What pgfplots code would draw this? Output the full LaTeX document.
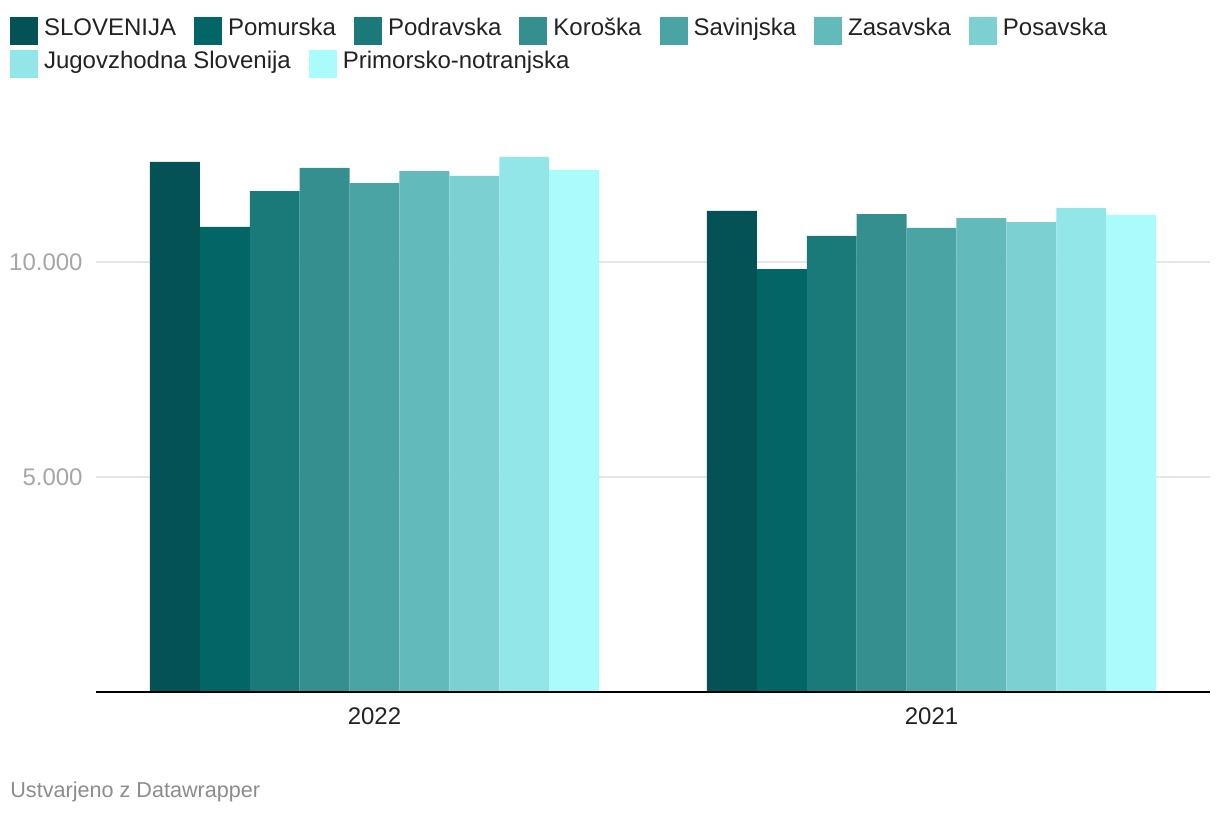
\documentclass[border=0pt]{standalone}
\usepackage{fontspec}
\setmainfont{Liberation Sans}
\usepackage{pgfplots}
\pgfplotsset{compat=1.18}

\definecolor{c1}{HTML}{045255}
\definecolor{c2}{HTML}{026666}
\definecolor{c3}{HTML}{1A7A7A}
\definecolor{c4}{HTML}{368F8F}
\definecolor{c5}{HTML}{4BA4A4}
\definecolor{c6}{HTML}{63BABA}
\definecolor{c7}{HTML}{7CD0D1}
\definecolor{c8}{HTML}{92E6E8}
\definecolor{c9}{HTML}{AAFCFC}
\definecolor{gridgray}{HTML}{E6E6E6}
\definecolor{ticklgray}{HTML}{A6A6A6}
\definecolor{labeldark}{HTML}{222222}
\definecolor{footgray}{HTML}{8C8C8C}

\pgfplotsset{
  sqlegend/.style={
    legend image code/.code={\fill[##1] (0pt,-7pt) rectangle (14pt,7pt);},
    legend columns=-1,
    legend cell align=left,
    legend style={draw=none, fill=none, inner sep=0pt, outer sep=0pt,
      anchor=north west,
      nodes={inner sep=0pt, text height=0.72em, text depth=0.26em},
      font=\fontsize{12}{14.4}\selectfont, text=labeldark,
      /tikz/every odd column/.append style={column sep=3pt},
      /tikz/every even column/.append style={column sep=9pt}},
  },
}

\begin{document}
\begin{tikzpicture}
\useasboundingbox (0,0) rectangle (610pt,407pt);
\begin{axis}[
  at={(48pt,61pt)}, anchor=south west,
  scale only axis, width=557pt, height=279.5pt,
  ybar=0pt, bar width=24.95pt,
  xmin=-0.5, xmax=1.5, ymin=0, ymax=13000,
  xtick={0,1}, xticklabels={2022,2021},
  ytick={5000,10000}, yticklabels={5.000,10.000},
  scaled y ticks=false,
  axis line style={draw=none},
  major tick length=0pt,
  ymajorgrids, grid style={color=gridgray, line width=1pt},
  xticklabel style={anchor=north, inner sep=0pt, yshift=-7.5pt,
    font=\fontsize{12}{14}\selectfont, text=labeldark},
  yticklabel style={anchor=east, inner sep=0pt, xshift=-6.5pt,
    font=\fontsize{12}{14}\selectfont, text=ticklgray},
  sqlegend,
  legend style={at={(-0.0772,1.2080)}},
  clip=false,
]
\addplot[fill=c1, draw=none] coordinates {(0,12326) (1,11186)};
\addlegendentry{SLOVENIJA}
\addplot[fill=c2, draw=none] coordinates {(0,10814) (1,9837)};
\addlegendentry{Pomurska}
\addplot[fill=c3, draw=none] coordinates {(0,11651) (1,10605)};
\addlegendentry{Podravska}
\addplot[fill=c4, draw=none] coordinates {(0,12186) (1,11116)};
\addlegendentry{Koroška}
\addplot[fill=c5, draw=none] coordinates {(0,11837) (1,10791)};
\addlegendentry{Savinjska}
\addplot[fill=c6, draw=none] coordinates {(0,12116) (1,11023)};
\addlegendentry{Zasavska}
\addplot[fill=c7, draw=none] coordinates {(0,12000) (1,10930)};
\addlegendentry{Posavska}
\addplot[fill=c8, draw=none] coordinates {(0,12442) (1,11256)};
\addplot[fill=c9, draw=none] coordinates {(0,12140) (1,11093)};
\draw[black, line width=1pt] (rel axis cs:0,0) -- (rel axis cs:1,0);
\end{axis}
% second legend row
\begin{axis}[
  at={(48pt,61pt)}, anchor=south west,
  scale only axis, width=557pt, height=279.5pt,
  hide axis, xmin=0, xmax=1, ymin=0, ymax=1,
  sqlegend,
  legend style={at={(-0.0772,1.1480)}},
]
\addlegendimage{fill=c8, draw=none}
\addlegendentry{Jugovzhodna Slovenija}
\addlegendimage{fill=c9, draw=none}
\addlegendentry{Primorsko-notranjska}
\end{axis}
\node[anchor=base west, inner sep=0pt, text=footgray,
  font=\fontsize{10.8}{13}\selectfont] at (5pt,8.5pt) {Ustvarjeno z Datawrapper};
\end{tikzpicture}
\end{document}
